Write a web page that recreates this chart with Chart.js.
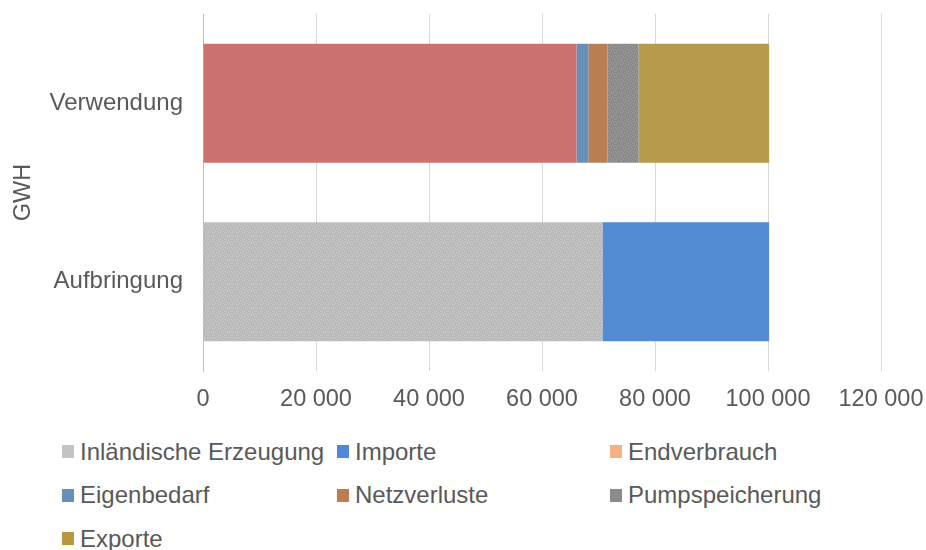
<!DOCTYPE html>
<html>
<head>
<meta charset="utf-8">
<script src="https://cdn.jsdelivr.net/npm/chart.js@4"></script>
<style>
  body { margin: 0; background: #fff; }
  #wrap { position: relative; width: 926px; height: 550px; }
  #legend {
    position: absolute; left: 62px; top: 430px;
    display: grid; grid-template-columns: 275px 273px auto;
    grid-auto-rows: 43.5px;
    font-family: 'Liberation Sans', Arial, sans-serif; font-size: 24px; color: #595959;
  }
  #legend .item { display: flex; align-items: center; white-space: nowrap; }
  #legend .box { width: 12px; height: 13px; margin-right: 6px; flex: none; }
</style>
</head>
<body>
<div id="wrap">
  <canvas id="myChart" width="926" height="430"></canvas>
  <div id="legend"></div>
</div>
<script>
// Stromaufbringung und -verwendung in GWh
var categories = ['Verwendung', 'Aufbringung'];
var seriesNames = ['Inländische Erzeugung', 'Importe', 'Endverbrauch', 'Eigenbedarf',
                   'Netzverluste', 'Pumpspeicherung', 'Exporte'];

var inlaendischeErzeugung = [null, 70700];
var importe = [null, 29500];
var endverbrauch = [66100, null];
var eigenbedarf = [2100, null];
var netzverluste = [3400, null];
var pumpspeicherung = [5500, null];
var exporte = [23100, null];

var xTicks = [0, 20000, 40000, 60000, 80000, 100000, 120000];

// small speckled fill, used for the two grey series
function speckle(base, light, dark) {
  var c = document.createElement('canvas');
  c.width = 6; c.height = 6;
  var g = c.getContext('2d');
  g.fillStyle = base;
  g.fillRect(0, 0, 6, 6);
  g.fillStyle = light;
  [[0,0],[3,1],[5,2],[1,3],[4,4],[2,5]].forEach(function(p){ g.fillRect(p[0], p[1], 1, 1); });
  g.fillStyle = dark;
  [[2,0],[5,0],[0,2],[3,3],[1,5],[5,4]].forEach(function(p){ g.fillRect(p[0], p[1], 1, 1); });
  return g.createPattern(c, 'repeat');
}

var barColors = [
  speckle('#bdbdbd', '#cbcbcb', '#b1b1b1'),
  '#538cd5',
  '#cc7370',
  '#678fb8',
  '#bb7d53',
  speckle('#8e8e8e', '#9c9c9c', '#828282'),
  '#b59b4b'
];
var legendColors = ['#c4c4c4', '#4f88d6', '#f4b183', '#6690ba', '#bf7c53', '#8c8c8c', '#b8993f'];

var values = [inlaendischeErzeugung, importe, endverbrauch, eigenbedarf,
              netzverluste, pumpspeicherung, exporte];

Chart.defaults.font.family = "'Liberation Sans', Arial, sans-serif";
Chart.defaults.color = '#595959';

var ctx = document.getElementById('myChart').getContext('2d');
var chart = new Chart(ctx, {
    type: 'bar',
    data: {
        labels: categories,
        datasets: seriesNames.map(function(name, i) {
            return {
                label: name,
                data: values[i],
                backgroundColor: barColors[i],
                borderWidth: 0,
                barPercentage: 0.667,
                categoryPercentage: 1
            };
        })
    },
    options: {
        indexAxis: 'y',
        responsive: false,
        animation: false,
        layout: { padding: { top: 14, right: 45, left: 0, bottom: 0 } },
        plugins: {
            legend: { display: false },
            tooltip: { enabled: false }
        },
        scales: {
            x: {
                stacked: true,
                min: xTicks[0],
                max: xTicks[xTicks.length - 1],
                afterBuildTicks: function(scale) {
                    scale.ticks = xTicks.map(function(v) { return { value: v }; });
                },
                afterFit: function(scale) {
                    scale.height = 59;
                    scale.paddingLeft = 0;
                    scale.paddingRight = 0;
                },
                ticks: {
                    font: { size: 23.5 },
                    padding: 14,
                    maxRotation: 0,
                    callback: function(v) {
                        return String(v).replace(/\B(?=(\d{3})+(?!\d))/g, ' ');
                    }
                },
                grid: { color: '#d9d9d9', drawTicks: false },
                border: { display: false }
            },
            y: {
                stacked: true,
                afterFit: function(scale) {
                    scale.width = 203;
                    scale.paddingTop = 0;
                    scale.paddingBottom = 0;
                },
                ticks: { font: { size: 24 }, padding: 20 },
                grid: { display: false, drawTicks: false },
                border: { display: true, color: '#bfbfbf', width: 1 },
                title: {
                    display: true,
                    text: 'GWH',
                    font: { size: 23.5 },
                    padding: { top: 9, bottom: 0 }
                }
            }
        }
    }
});

// legend laid out in three columns
var legend = document.getElementById('legend');
seriesNames.forEach(function(name, i) {
    var item = document.createElement('div');
    item.className = 'item';
    var box = document.createElement('span');
    box.className = 'box';
    box.style.background = legendColors[i];
    var label = document.createElement('span');
    label.textContent = name;
    item.appendChild(box);
    item.appendChild(label);
    legend.appendChild(item);
});
</script>
</body>
</html>
